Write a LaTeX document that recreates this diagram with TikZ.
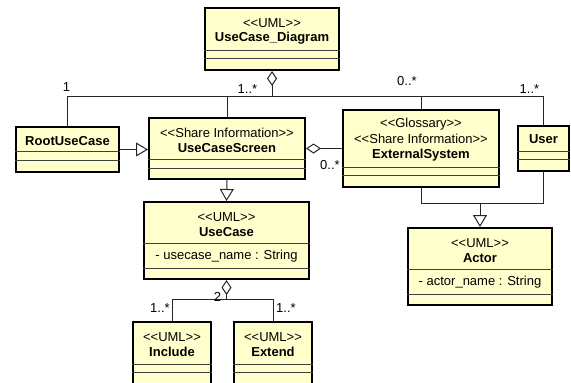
\documentclass[tikz,border=0pt]{standalone}
\usepackage{fontspec}
\setmainfont{Liberation Sans}[Ligatures=TeXOff]
\usetikzlibrary{arrows.meta}
\definecolor{classfill}{HTML}{FFFFCC}

\begin{document}
\begin{tikzpicture}[x=1pt,y=-1pt,
    cls/.style={draw,line width=2pt,fill=classfill,inner sep=0pt},
    txt/.style={inner sep=0pt,font=\fontsize{13}{15}\selectfont},
    bold/.style={inner sep=0pt,font=\fontsize{13}{15}\selectfont\bfseries},
    sep/.style={line width=1pt,black!75},
    link/.style={line width=1pt,black!85},
    gen/.style={link,-{Triangle[length=12pt,width=14pt,fill=white]}},
    agg/.style={link,-{Diamond[length=15pt,width=10pt,fill=white]}}]
  \useasboundingbox (0,0) rectangle (571,383);
  \clip (0,0) rectangle (571,383);

  % classes
  \node[cls,minimum width=134,minimum height=62] (diagram) at (272,39) {};
  \node[cls,minimum width=103,minimum height=45] (root) at (67.5,149.5) {};
  \node[cls,minimum width=156,minimum height=61] (screen) at (227,148.5) {};
  \node[cls,minimum width=156,minimum height=77] (ext) at (421,148.5) {};
  \node[cls,minimum width=51,minimum height=45] (user) at (543.5,148.5) {};
  \node[cls,minimum width=165,minimum height=77] (usecase) at (226.5,240.5) {};
  \node[cls,minimum width=144,minimum height=77] (actor) at (480,266.5) {};
  \node[cls,minimum width=78,minimum height=62] (include) at (172,353) {};
  \node[cls,minimum width=78,minimum height=62] (extend) at (273,353) {};

  % class texts
  \node[txt] (diagram-st) at (272,23) {<<UML>>};
  \node[bold] (diagram-nm) at (272,38) {UseCase\_Diagram};
  \node[bold] (root-nm) at (67.5,141) {RootUseCase};
  \node[txt] (screen-st) at (227,133) {<<Share Information>>};
  \node[bold] (screen-nm) at (227,148) {UseCaseScreen};
  \node[txt] (ext-st1) at (421,124) {<<Glossary>>};
  \node[txt] (ext-st2) at (421,139) {<<Share Information>>};
  \node[bold] (ext-nm) at (421,155) {ExternalSystem};
  \node[bold] (user-nm) at (543.5,139) {User};
  \node[txt] (usecase-st) at (226.5,217) {<<UML>>};
  \node[bold] (usecase-nm) at (226.5,232) {UseCase};
  \node[txt] (usecase-at) at (226.5,256) {- usecase\_name : String};
  \node[txt] (actor-st) at (480,243) {<<UML>>};
  \node[bold] (actor-nm) at (480,258) {Actor};
  \node[txt] (actor-at) at (480,282) {- actor\_name : String};
  \node[txt] (include-st) at (172,337) {<<UML>>};
  \node[bold] (include-nm) at (172,352) {Include};
  \node[txt] (extend-st) at (273,337) {<<UML>>};
  \node[bold] (extend-nm) at (273,352) {Extend};

  % compartments
  \draw[sep] (diagram.west |- 0,50) -- (diagram.east |- 0,50);
  \draw[sep] (diagram.west |- 0,58) -- (diagram.east |- 0,58);
  \draw[sep] (root.west |- 0,151) -- (root.east |- 0,151);
  \draw[sep] (root.west |- 0,160) -- (root.east |- 0,160);
  \draw[sep] (screen.west |- 0,159) -- (screen.east |- 0,159);
  \draw[sep] (screen.west |- 0,168) -- (screen.east |- 0,168);
  \draw[sep] (ext.west |- 0,167) -- (ext.east |- 0,167);
  \draw[sep] (ext.west |- 0,175) -- (ext.east |- 0,175);
  \draw[sep] (user.west |- 0,151) -- (user.east |- 0,151);
  \draw[sep] (user.west |- 0,159) -- (user.east |- 0,159);
  \draw[sep] (usecase.west |- 0,243) -- (usecase.east |- 0,243);
  \draw[sep] (usecase.west |- 0,268) -- (usecase.east |- 0,268);
  \draw[sep] (actor.west |- 0,269) -- (actor.east |- 0,269);
  \draw[sep] (actor.west |- 0,294) -- (actor.east |- 0,294);
  \draw[sep] (include.west |- 0,364) -- (include.east |- 0,364);
  \draw[sep] (include.west |- 0,372) -- (include.east |- 0,372);
  \draw[sep] (extend.west |- 0,364) -- (extend.east |- 0,364);
  \draw[sep] (extend.west |- 0,372) -- (extend.east |- 0,372);

  % junctions
  \coordinate (top-hub) at (272,96);
  \coordinate (actor-hub) at (480,203);
  \coordinate (usecase-hub) at (226.5,299);

  % connectors
  \draw[agg] (top-hub) -- (diagram.south);
  \draw[link] (top-hub) -| (root.north);
  \draw[link] (top-hub) -| (screen.north);
  \draw[link] (top-hub) -| (ext.north);
  \draw[link] (top-hub) -| (user.north);
  \draw[gen] (root.east) -- (root.east -| screen.west);
  \draw[gen] (screen.south) -- (usecase.north);
  \draw[agg] (ext.west) -- (screen.east);
  \draw[link] (ext.south) |- (actor-hub);
  \draw[link] (user.south) |- (actor-hub);
  \draw[gen] (actor-hub) -- (actor.north);
  \draw[agg] (usecase-hub) -- (usecase.south);
  \draw[link] (usecase-hub) -| (include.north);
  \draw[link] (usecase-hub) -| (extend.north);

  % multiplicities
  \node[txt] (m-root) at (66.5,87.5) {1};
  \node[txt] (m-screen) at (247.5,89) {1..*};
  \node[txt] (m-ext) at (407,81) {0..*};
  \node[txt] (m-user) at (529.5,89) {1..*};
  \node[txt] (m-agg) at (330,165) {0..*};
  \node[txt] (m-two) at (217.5,296.5) {2};
  \node[txt] (m-include) at (160,308) {1..*};
  \node[txt] (m-extend) at (286,308) {1..*};
\end{tikzpicture}
\end{document}
